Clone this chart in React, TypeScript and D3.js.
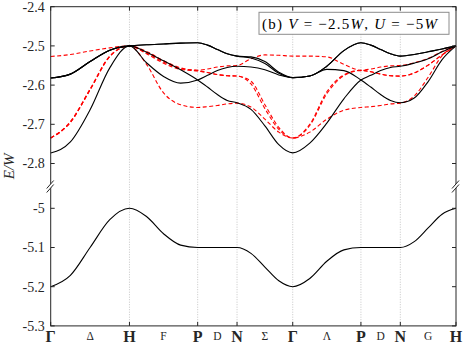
import React from "react";
import * as d3 from "d3";

// High-symmetry path (cumulative |k| in units of 2π/a)
const kNodes = [0, 1, 1.866, 2.366, 3.073, 3.939, 4.439, 5.146];
const pointLabels = ["Γ", "H", "P", "N", "Γ", "P", "N", "H"];
const lineLabels = ["Δ", "F", "D", "Σ", "Λ", "D", "G"];
const upperTicks = [-2.4, -2.5, -2.6, -2.7, -2.8];
const lowerTicks = [-5, -5.1, -5.2, -5.3];
const fractions = [0, 0.25, 0.5, 0.75, 1];

// Values read at fractions 0,.25,.5,.75,1 of each segment (shared end points)
// Black (solid) bands
const black1 = [-2.582, -2.572, -2.540, -2.511, -2.500, -2.497, -2.495, -2.493, -2.492, -2.498, -2.509, -2.520, -2.526, -2.528, -2.540, -2.567, -2.581, -2.577, -2.552, -2.512, -2.492, -2.498, -2.509, -2.520, -2.526, -2.522, -2.515, -2.508, -2.500];
const black2 = [-2.582, -2.572, -2.540, -2.511, -2.500, -2.497, -2.495, -2.493, -2.492, -2.498, -2.509, -2.520, -2.526, -2.531, -2.545, -2.570, -2.581, -2.577, -2.560, -2.563, -2.587, -2.605, -2.624, -2.639, -2.645, -2.633, -2.591, -2.535, -2.500];
const black3 = [-2.582, -2.572, -2.540, -2.511, -2.500, -2.516, -2.538, -2.561, -2.587, -2.605, -2.624, -2.639, -2.645, -2.662, -2.704, -2.752, -2.773, -2.748, -2.697, -2.635, -2.587, -2.575, -2.563, -2.555, -2.552, -2.544, -2.533, -2.515, -2.500];
const black4 = [-2.773, -2.745, -2.663, -2.556, -2.500, -2.543, -2.578, -2.595, -2.587, -2.575, -2.563, -2.555, -2.552, -2.554, -2.561, -2.574, -2.581, -2.577, -2.552, -2.512, -2.492, -2.498, -2.509, -2.520, -2.526, -2.522, -2.515, -2.508, -2.500];
const blackLow = [-5.2, -5.171, -5.1, -5.029, -5.0, -5.021, -5.065, -5.094, -5.1, -5.1, -5.1, -5.1, -5.1, -5.115, -5.15, -5.185, -5.2, -5.179, -5.135, -5.106, -5.1, -5.1, -5.1, -5.1, -5.1, -5.085, -5.05, -5.015, -5.0];
// Red (dashed) bands
const red1 = [-2.527, -2.522, -2.513, -2.505, -2.500, -2.514, -2.538, -2.556, -2.562, -2.559, -2.554, -2.551, -2.550, -2.533, -2.523, -2.524, -2.526, -2.526, -2.528, -2.547, -2.562, -2.559, -2.554, -2.551, -2.550, -2.543, -2.532, -2.514, -2.500];
const red2 = [-2.735, -2.695, -2.612, -2.527, -2.500, -2.520, -2.544, -2.560, -2.564, -2.568, -2.573, -2.576, -2.577, -2.597, -2.660, -2.713, -2.735, -2.700, -2.617, -2.574, -2.562, -2.566, -2.572, -2.576, -2.577, -2.569, -2.549, -2.523, -2.500];
const red3 = [-2.735, -2.693, -2.610, -2.526, -2.500, -2.547, -2.620, -2.650, -2.657, -2.655, -2.652, -2.648, -2.646, -2.656, -2.687, -2.720, -2.735, -2.720, -2.687, -2.664, -2.657, -2.655, -2.652, -2.648, -2.646, -2.628, -2.580, -2.525, -2.500];
const red4 = [-2.735, -2.695, -2.612, -2.527, -2.500, -2.518, -2.541, -2.558, -2.563, -2.568, -2.573, -2.576, -2.577, -2.590, -2.650, -2.708, -2.735, -2.703, -2.622, -2.576, -2.563, -2.566, -2.572, -2.576, -2.577, -2.569, -2.549, -2.523, -2.500];

const blackBands = [black1, black2, black3, black4, blackLow];
const redBands = [red1, red2, red3, red4];

const W = 463;
const H = 344;
const left = 50.7;
const right = 456;
const top = 6.7;
const bottom = 325.9;
const FONT = '"Liberation Serif", "DejaVu Serif", serif';

const kSamples: number[] = [];
for (let s = 0; s < kNodes.length - 1; s++) {
  for (let j = s === 0 ? 0 : 1; j < fractions.length; j++) {
    kSamples.push(kNodes[s] + (kNodes[s + 1] - kNodes[s]) * fractions[j]);
  }
}

const x = d3.scaleLinear().domain([0, kNodes[kNodes.length - 1]]).range([left, right]);
const yUp = d3.scaleLinear().domain([-2.4, -2.8]).range([top, 163.5]);
const yLo = d3.scaleLinear().domain([-5, -5.3]).range([208.3, bottom]);
const y = (e: number) => (e > -4 ? yUp(e) : yLo(e));

const line = d3
  .line<number>()
  .x((_, i) => x(kSamples[i]))
  .y((d) => y(d))
  .curve(d3.curveMonotoneX);

const breakY = 185.5;
const txt = { fontFamily: FONT };

function BreakMark({ cx }: { cx: number }) {
  return (
    <g>
      <polygon
        points={`${cx - 4},${breakY + 3} ${cx + 3},${breakY - 5} ${cx + 3},${breakY - 1} ${cx - 4},${breakY + 7}`}
        fill="#fff"
        stroke="none"
      />
      <line x1={cx - 4} y1={breakY + 3} x2={cx + 3} y2={breakY - 5} stroke="#262626" strokeWidth={1} />
      <line x1={cx - 4} y1={breakY + 7} x2={cx + 3} y2={breakY - 1} stroke="#262626" strokeWidth={1} />
    </g>
  );
}

export default function App() {
  const innerNodes = kNodes.slice(1, -1);
  const yTicks = [...upperTicks, ...lowerTicks];
  return (
    <svg
      width={W}
      height={H}
      style={{ position: "absolute", left: 0, top: 0, background: "#fff", fontFamily: FONT }}
    >
      <rect x={0} y={0} width={W} height={H} fill="#fff" />
      {/* grid */}
      {innerNodes.map((k, i) => (
        <line
          key={"g" + i}
          x1={x(k)}
          x2={x(k)}
          y1={top}
          y2={bottom}
          stroke="#b8b8b8"
          strokeWidth={0.8}
          strokeDasharray="1,1.5"
        />
      ))}
      {/* bands */}
      {redBands.map((b, i) => (
        <path
          key={"r" + i}
          d={line(b) || ""}
          fill="none"
          stroke="#ff0000"
          strokeWidth={1.1}
          strokeDasharray="4,2.5"
        />
      ))}
      {blackBands.map((b, i) => (
        <path key={"b" + i} d={line(b) || ""} fill="none" stroke="#000" strokeWidth={1.1} />
      ))}
      {/* frame */}
      <rect x={left} y={top} width={right - left} height={bottom - top} fill="none" stroke="#262626" strokeWidth={1} />
      {/* y ticks */}
      {yTicks.map((t, i) => (
        <g key={"yt" + i}>
          <line x1={left} x2={left + 4} y1={y(t)} y2={y(t)} stroke="#262626" />
          <line x1={right - 4} x2={right} y1={y(t)} y2={y(t)} stroke="#262626" />
          <text x={left - 6} y={y(t)} dy="0.35em" textAnchor="end" fontSize={14} fill="#262626" style={txt}>
            {String(t)}
          </text>
        </g>
      ))}
      {/* x ticks */}
      {kNodes.map((k, i) => (
        <g key={"xt" + i}>
          <line x1={x(k)} x2={x(k)} y1={bottom} y2={bottom - 4} stroke="#262626" />
          <line x1={x(k)} x2={x(k)} y1={top} y2={top + 4} stroke="#262626" />
          <text x={x(k)} y={342} textAnchor="middle" fontSize={16} fontWeight="bold" fill="#262626" style={txt}>
            {pointLabels[i]}
          </text>
        </g>
      ))}
      {lineLabels.map((l, i) => (
        <text
          key={"ll" + i}
          x={x((kNodes[i] + kNodes[i + 1]) / 2)}
          y={339.5}
          textAnchor="middle"
          fontSize={11.5}
          fill="#262626"
          style={txt}
        >
          {l}
        </text>
      ))}
      <BreakMark cx={left} />
      <BreakMark cx={right} />
      {/* y label */}
      <text
        transform={`translate(14,${(top + bottom) / 2}) rotate(-90)`}
        textAnchor="middle"
        fontSize={15}
        fontStyle="italic"
        fill="#262626"
        style={txt}
      >
        E/W
      </text>
      {/* legend box */}
      <rect x={259} y={12.3} width={190} height={22} fill="#fff" stroke="#8c8c8c" strokeWidth={1} />
      <text x={262} y={28.5} fontSize={15} fill="#000" textLength={175} lengthAdjust="spacing" style={txt}>
        <tspan>(b) </tspan>
        <tspan fontStyle="italic">V</tspan>
        <tspan> = −2.5</tspan>
        <tspan fontStyle="italic">W</tspan>
        <tspan>, </tspan>
        <tspan fontStyle="italic">U</tspan>
        <tspan> = −5</tspan>
        <tspan fontStyle="italic">W</tspan>
      </text>
    </svg>
  );
}
